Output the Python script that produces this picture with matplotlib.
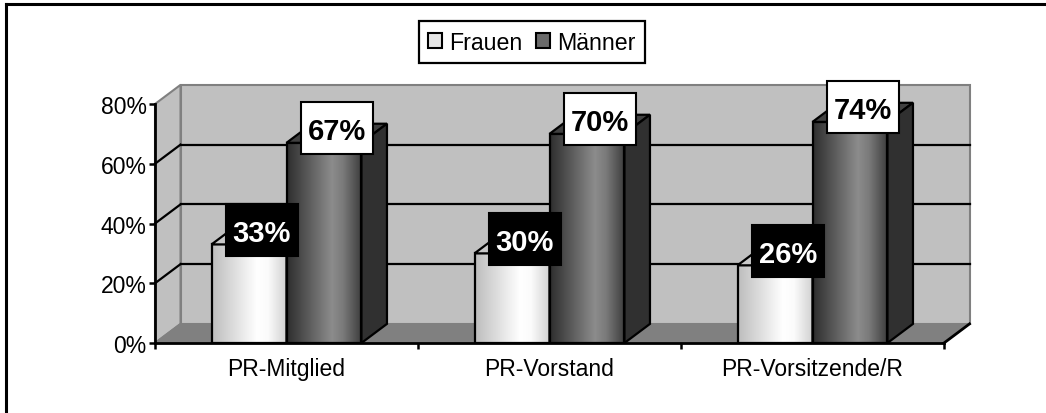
import numpy as np
import matplotlib
matplotlib.use("Agg")
import matplotlib.pyplot as plt
from matplotlib.patches import Polygon, Rectangle, Patch
from matplotlib.lines import Line2D
from matplotlib.colors import LinearSegmentedColormap
from matplotlib.transforms import ScaledTranslation

# ---- data ----
categories = ['PR-Mitglied', 'PR-Vorstand', 'PR-Vorsitzende/R']
series_names = ['Frauen', 'Männer']
frauen = [33, 30, 26]
maenner = [67, 70, 74]
yticks = [0, 20, 40, 60, 80]
ytick_labels = ['0%', '20%', '40%', '60%', '80%']

plt.rcParams['font.family'] = ['Liberation Sans', 'DejaVu Sans']

W, H = 1046, 414
fig = plt.figure(figsize=(W / 100, H / 100), dpi=100)
ax = fig.add_axes([155 / W, (H - 344) / H, 789 / W, 239 / H])

n = len(categories)
xmax, ymax = n, 80
DX = 0.097      # depth offset in category units
DY = 6.4        # depth offset in percent units
BW = 0.285      # bar width

wall_c = '#c0c0c0'
floor_c = '#808080'
edge_gray = '#808080'

# back wall
ax.add_patch(Polygon([(DX, DY), (xmax + DX, DY), (xmax + DX, ymax + DY), (DX, ymax + DY)],
                     closed=True, facecolor=wall_c, edgecolor=edge_gray, lw=1.5, zorder=0, clip_on=False))
# side wall
ax.add_patch(Polygon([(0, 0), (DX, DY), (DX, ymax + DY), (0, ymax)],
                     closed=True, facecolor=wall_c, edgecolor=edge_gray, lw=1.5, zorder=0, clip_on=False))
# floor
ax.add_patch(Polygon([(0, 0), (xmax, 0), (xmax + DX, DY), (DX, DY)],
                     closed=True, facecolor=floor_c, edgecolor=edge_gray, lw=1.2, zorder=0.5, clip_on=False))
ax.plot([xmax, xmax + DX], [0, DY], color='black', lw=2, zorder=0.6, clip_on=False)

# gridlines
for v in yticks[1:-1]:
    ax.plot([DX, xmax + DX], [v + DY, v + DY], color='black', lw=1.6, zorder=1, clip_on=False)
    ax.plot([0, DX], [v, v + DY], color='black', lw=1.6, zorder=1, clip_on=False)

cm_f = LinearSegmentedColormap.from_list('f', [(0, '#bdbdbd'), (0.6, '#ffffff'), (0.75, '#fbfbfb'), (1, '#d0d0d0')])
cm_m = LinearSegmentedColormap.from_list('m', [(0, '#2e2e2e'), (0.6, '#8c8c8c'), (0.75, '#7a7a7a'), (1, '#3c3c3c')])
grad = np.linspace(0, 1, 256).reshape(1, -1)


def draw_bar(x0, v, cmap, top_c, side_c, z):
    x1 = x0 + BW
    ax.imshow(grad, cmap=cmap, extent=(x0, x1, 0, v), aspect='auto', zorder=z, interpolation='bilinear')
    ax.add_patch(Rectangle((x0, 0), BW, v, facecolor='none', edgecolor='black', lw=1.6, zorder=z + 0.1))
    ax.add_patch(Polygon([(x0, v), (x1, v), (x1 + DX, v + DY), (x0 + DX, v + DY)], closed=True,
                         facecolor=top_c, edgecolor='black', lw=1.6, zorder=z + 0.1, clip_on=False))
    ax.add_patch(Polygon([(x1, 0), (x1 + DX, DY), (x1 + DX, v + DY), (x1, v)], closed=True,
                         facecolor=side_c, edgecolor='black', lw=1.6, zorder=z + 0.1, clip_on=False))


BOX_W, BOX_H = 0.72, 0.52   # label box size in inches
LIFT = 0.05                 # label lift above the bar top, inches


def label(xd, yd, txt, fc, tc):
    tr = fig.dpi_scale_trans + ScaledTranslation(xd, yd, ax.transData)
    ax.add_patch(Rectangle((-BOX_W / 2, LIFT - BOX_H / 2), BOX_W, BOX_H, transform=tr,
                           facecolor=fc, edgecolor='black', lw=1.5, zorder=10, clip_on=False))
    ax.text(0, LIFT, txt, transform=tr, ha='center', va='center_baseline', fontsize=21,
            fontweight='bold', color=tc, zorder=11, clip_on=False)


for i in range(n):
    c = i + 0.5
    draw_bar(c - BW, frauen[i], cm_f, '#c8c8c8', '#a0a0a0', 3 + i * 0.01)
    draw_bar(c, maenner[i], cm_m, '#404040', '#303030', 4 + i * 0.01)
    label(c - BW / 2 + DX / 2, frauen[i] + DY / 2, f'{frauen[i]}%', 'black', 'white')
    label(c + BW / 2 + DX / 2, maenner[i] + DY / 2, f'{maenner[i]}%', 'white', 'black')

ax.set_xlim(0, xmax)
ax.set_ylim(0, ymax)
ax.set_aspect('auto')
ax.set_facecolor('none')

for s in ['top', 'right']:
    ax.spines[s].set_visible(False)
for s in ['left', 'bottom']:
    ax.spines[s].set_color('black')
    ax.spines[s].set_linewidth(2)
    ax.spines[s].set_zorder(5)

ax.set_yticks(yticks)
ax.set_yticklabels(ytick_labels)
ax.tick_params(axis='y', direction='out', length=4, width=1.8, pad=2, labelsize=16.5)
ax.set_xticks(np.arange(n + 1))
ax.set_xticklabels([''] * (n + 1))
ax.tick_params(axis='x', which='major', direction='out', length=4, width=1.8)
ax.set_xticks(np.arange(n) + 0.5, minor=True)
ax.set_xticklabels(categories, minor=True)
ax.tick_params(axis='x', which='minor', length=0, pad=10, labelsize=16.5)

handles = [Patch(facecolor='#e6e6e6', edgecolor='black', lw=1.5, label=series_names[0]),
           Patch(facecolor='#6a6a6a', edgecolor='black', lw=1.5, label=series_names[1])]
leg = fig.legend(handles=handles, loc='center', bbox_to_anchor=(532 / W, 1 - 43 / H), ncol=2,
                 fontsize=16.7, frameon=True, fancybox=False, framealpha=1, edgecolor='black',
                 handlelength=0.6, handleheight=0.65, handletextpad=0.3, columnspacing=0.6,
                 borderpad=0.4, borderaxespad=0)
leg.get_frame().set_linewidth(1.6)

# outer frame (top and left edges visible)
fig.add_artist(Line2D([6 / W, 1.0], [1 - 5 / H, 1 - 5 / H], color='black', lw=2.2, transform=fig.transFigure))
fig.add_artist(Line2D([6 / W, 6 / W], [0, 1 - 5 / H], color='black', lw=2.2, transform=fig.transFigure))

fig.savefig('out.png', dpi=100)
